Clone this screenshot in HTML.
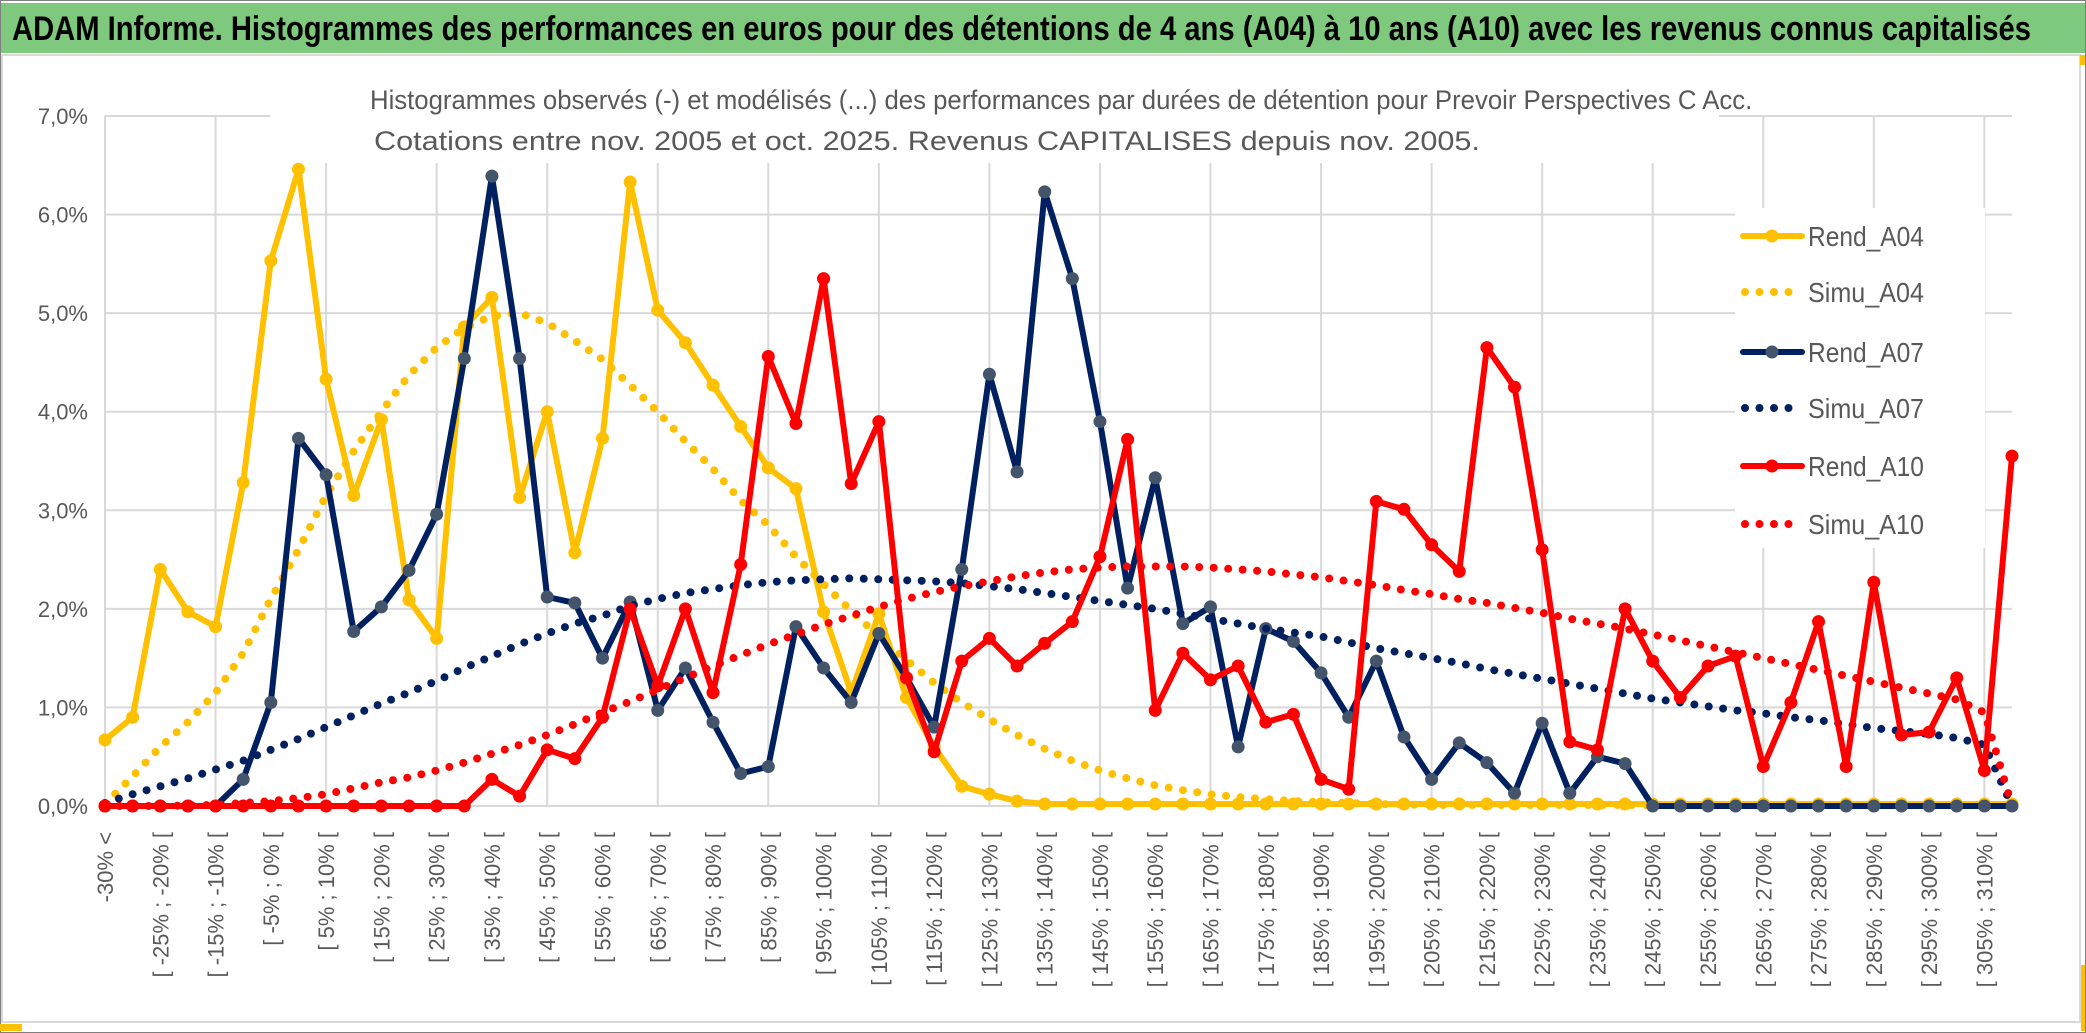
<!DOCTYPE html>
<html><head><meta charset="utf-8">
<style>
html,body{margin:0;padding:0;background:#fff;}
body{width:2086px;height:1033px;overflow:hidden;font-family:"Liberation Sans",sans-serif;}
svg{display:block}
</style></head>
<body>
<svg id="chart" width="2086" height="1033" viewBox="0 0 2086 1033" xmlns="http://www.w3.org/2000/svg">
  <rect x="0.5" y="0.5" width="2085" height="1032" fill="#fff" stroke="#7f7f7f" stroke-width="1"/>
  <rect x="1" y="3" width="2084" height="50" fill="#7FC97F"/>
  <text class="fit" data-w="2020" data-x="12" data-y="40" font-size="34" font-weight="bold" fill="#000">ADAM Informe. Histogrammes des performances en euros pour des détentions de 4 ans (A04) à 10 ans (A10) avec les revenus connus capitalisés</text>
  <rect x="2" y="55" width="2078" height="967" fill="none" stroke="#d9d9d9" stroke-width="2"/>
  <rect x="0" y="1024" width="22" height="7" fill="#FFC000"/>
  <rect x="2080" y="55" width="5" height="10" fill="#FFC000"/>
  <rect x="2081" y="965" width="4" height="66" fill="#FFC000"/>
  <g id="grid"></g>
  <rect x="270" y="66" width="1449" height="97" fill="#fff"/>
  <text class="fit" data-w="1383" data-x="370" data-y="109" font-size="27" fill="#595959">Histogrammes observés (-) et modélisés (...) des performances par durées de détention pour Prevoir Perspectives C Acc.</text>
  <text class="fit" data-w="1106" data-x="374" data-y="150" font-size="27" fill="#595959">Cotations entre nov. 2005 et oct. 2025. Revenus CAPITALISES depuis nov. 2005.</text>
  <rect x="1735" y="208" width="250" height="340" fill="#fff"/>
  <g id="yaxis"></g>
  <g id="xaxis"></g>
  <g id="series"></g>
  <g id="legend"></g>
</svg>
<script>
const categories = (function(){ const c=["-30% <"]; for(let k=-30;k<315;k+=5){ c.push("[ "+k+"% ; "+(k+5)+"% ["); } return c; })();
const yTicks = [0,1,2,3,4,5,6,7];
const yTickLabels = ["0,0%","1,0%","2,0%","3,0%","4,0%","5,0%","6,0%","7,0%"];
const rendA04 = [0.67,0.9,2.4,1.97,1.82,3.28,5.53,6.46,4.33,3.15,3.92,2.09,1.7,4.86,5.16,3.13,4.0,2.57,3.73,6.33,5.03,4.7,4.27,3.85,3.43,3.22,1.97,1.15,1.95,1.1,0.6,0.2,0.12,0.05,0.02,0.02,0.02,0.02,0.02,0.02,0.02,0.02,0.02,0.02,0.02,0.02,0.02,0.02,0.02,0.02,0.02,0.02,0.02,0.02,0.02,0.02,0.02,0.02,0.02,0.02,0.02,0.02,0.02,0.02,0.02,0.02,0.02,0.02,0.02,0.02];
const simuA04 = [0.02,0.3,0.6,0.85,1.15,1.55,2.1,2.6,3.15,3.6,4.0,4.37,4.65,4.85,4.97,5.0,4.9,4.72,4.53,4.27,4.0,3.7,3.42,3.1,2.85,2.53,2.25,1.98,1.72,1.48,1.25,1.05,0.88,0.72,0.58,0.46,0.36,0.28,0.21,0.16,0.12,0.09,0.07,0.05,0.04,0.03,0.02,0.015,0.01,0.01,0.01,0.01,0.01,0.01,0.01,0.01,0.01,0.01,0.01,0.01,0.01,0.01,0.01,0.01,0.01,0.01,0.01,0.01,0.01,0.01];
const rendA07 = [0,0,0,0,0,0.27,1.05,3.73,3.36,1.77,2.02,2.39,2.96,4.54,6.39,4.54,2.12,2.06,1.5,2.07,0.97,1.4,0.85,0.33,0.4,1.82,1.4,1.05,1.75,1.3,0.8,2.4,4.38,3.39,6.23,5.35,3.9,2.21,3.33,1.85,2.02,0.6,1.8,1.67,1.35,0.9,1.47,0.7,0.27,0.64,0.44,0.13,0.84,0.13,0.5,0.43,0,0,0,0,0,0,0,0,0,0,0,0,0,0];
const simuA07 = [0.03,0.12,0.2,0.28,0.37,0.46,0.57,0.68,0.8,0.92,1.04,1.15,1.27,1.4,1.52,1.64,1.75,1.85,1.93,2.03,2.1,2.16,2.2,2.24,2.27,2.29,2.3,2.31,2.3,2.29,2.28,2.26,2.23,2.2,2.16,2.12,2.08,2.04,2.0,1.95,1.9,1.85,1.8,1.76,1.72,1.66,1.6,1.55,1.5,1.45,1.39,1.34,1.29,1.24,1.19,1.14,1.09,1.05,1.01,0.97,0.94,0.9,0.87,0.83,0.79,0.76,0.73,0.69,0.62,0];
const rendA10 = [0,0,0,0,0,0,0,0,0,0,0,0,0,0,0.27,0.1,0.57,0.48,0.9,2.0,1.22,2.0,1.15,2.45,4.56,3.88,5.35,3.27,3.9,1.3,0.55,1.47,1.7,1.42,1.65,1.87,2.53,3.72,0.97,1.55,1.28,1.42,0.85,0.93,0.27,0.17,3.09,3.01,2.65,2.38,4.65,4.25,2.6,0.65,0.57,2.0,1.47,1.1,1.42,1.52,0.4,1.05,1.87,0.4,2.27,0.72,0.75,1.3,0.36,3.55];
const simuA10 = [0,0,0,0.005,0.01,0.03,0.05,0.08,0.12,0.18,0.24,0.29,0.36,0.44,0.53,0.62,0.72,0.83,0.95,1.06,1.18,1.3,1.42,1.53,1.64,1.74,1.84,1.93,2.02,2.1,2.17,2.23,2.28,2.33,2.37,2.4,2.42,2.43,2.43,2.43,2.42,2.4,2.38,2.35,2.32,2.28,2.24,2.19,2.15,2.1,2.06,2.01,1.96,1.9,1.85,1.8,1.74,1.68,1.62,1.56,1.5,1.44,1.38,1.32,1.26,1.2,1.14,1.08,0.95,0];
const seriesNames = ["Rend_A04","Simu_A04","Rend_A07","Simu_A07","Rend_A10","Simu_A10"];

const NS="http://www.w3.org/2000/svg";
const X0=105, X1=2012, Y0=806, Y7=116;
function xPos(i){ return X0 + i*(X1-X0)/(categories.length-1); }
function yPos(v){ return Y0 - v*(Y0-Y7)/7; }
function mk(tag, attrs, parent){ const e=document.createElementNS(NS,tag); for(const k in attrs) e.setAttribute(k,attrs[k]); parent.appendChild(e); return e; }

document.querySelectorAll('text.fit').forEach(t=>{
  const w=t.getComputedTextLength();
  const sx=parseFloat(t.getAttribute('data-w'))/w;
  t.setAttribute('transform','translate('+t.getAttribute('data-x')+','+t.getAttribute('data-y')+') scale('+sx+',1)');
});

const grid=document.getElementById('grid');
yTicks.forEach(t=>{
  const l=mk('line',{x1:X0,x2:X1,y1:yPos(t),y2:yPos(t),stroke:'#d9d9d9','stroke-width':2},grid);
  
  
});
for(let i=0;i<categories.length;i+=4){
  const l=mk('line',{x1:xPos(i),x2:xPos(i),y1:yPos(7),y2:yPos(0),stroke:'#d9d9d9','stroke-width':2},grid);
  
  
}
const ya=document.getElementById('yaxis');
yTicks.forEach((t,i)=>{
  const tx=mk('text',{x:88,y:yPos(t)+8,'text-anchor':'end','font-size':22,fill:'#595959'},ya);
  tx.textContent=yTickLabels[i];
  
  
});
const xa=document.getElementById('xaxis');
for(let i=0;i<categories.length;i+=2){
  const x=xPos(i)+8, y=832;
  const tx=mk('text',{x:x,y:y,'text-anchor':'end','font-size':22,fill:'#595959',transform:'rotate(-90 '+x+' '+y+')'},xa);
  tx.textContent=categories[i];
  
  
}
const sg=document.getElementById('series');
function pts(arr){ return arr.map((v,i)=>xPos(i).toFixed(1)+','+yPos(v).toFixed(1)).join(' '); }
function solid(arr,color,marker,name){
  const g=mk('g',{},sg);
  
  
  mk('polyline',{points:pts(arr),fill:'none',stroke:color,'stroke-width':6,'stroke-linejoin':'round'},g);
  arr.forEach((v,i)=>{
    const c=mk('circle',{cx:xPos(i),cy:yPos(v),r:6.5,fill:marker},g);
    
    
  });
}
function dotted(arr,color,name){
  const p=mk('polyline',{points:pts(arr),fill:'none',stroke:color,'stroke-width':8,'stroke-linecap':'round','stroke-dasharray':'0 14.5'},sg);
  
  
}
solid(rendA04,'#FFC000','#FFC000','rend-a04-line');
dotted(simuA04,'#FFC000','simu-a04-line');
solid(rendA07,'#002060','#44546A','rend-a07-line');
dotted(simuA07,'#002060','simu-a07-line');
solid(rendA10,'#FF0000','#FF0000','rend-a10-line');
dotted(simuA10,'#FF0000','simu-a10-line');

const lg=document.getElementById('legend');
const legY=[236,292,352,408,466,524];
const legC=['#FFC000','#FFC000','#002060','#002060','#FF0000','#FF0000'];
const legM=['#FFC000',null,'#44546A',null,'#FF0000',null];
seriesNames.forEach((n,i)=>{
  const g=mk('g',{},lg);
  
  
  if(i%2===0){
    mk('line',{x1:1743,x2:1802,y1:legY[i],y2:legY[i],stroke:legC[i],'stroke-width':6,'stroke-linecap':'round'},g);
    mk('circle',{cx:1772,cy:legY[i],r:6.5,fill:legM[i]},g);
  } else {
    mk('line',{x1:1745,x2:1800,y1:legY[i],y2:legY[i],stroke:legC[i],'stroke-width':8,'stroke-linecap':'round','stroke-dasharray':'0 14.5'},g);
  }
  const t=mk('text',{x:1808,y:legY[i]+10,'font-size':28,fill:'#595959'},g);
  t.textContent=n;
  const w=t.getComputedTextLength();
  t.setAttribute('transform','translate('+(1808-1808*116/w)+',0) scale('+(116/w)+',1)');
});
</script>
</body></html>
